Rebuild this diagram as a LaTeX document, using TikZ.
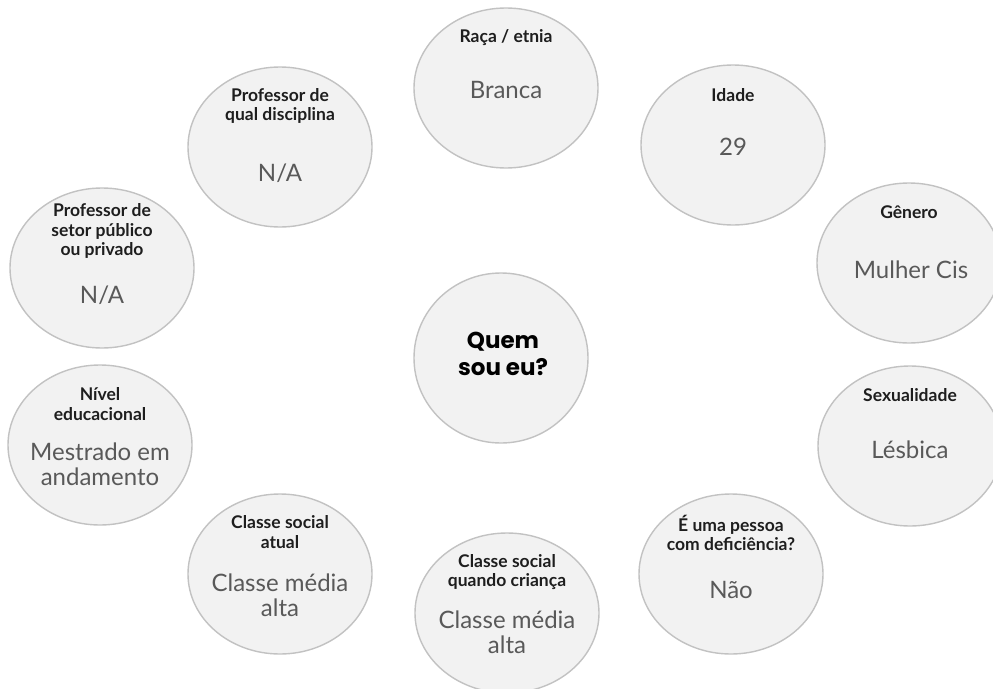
\documentclass[tikz,border=0pt]{standalone}
\usepackage{fontspec}
\setmainfont{Lato}
\newfontfamily\headfont{Poppins}
\usetikzlibrary{shapes.geometric}
\definecolor{bubblefill}{HTML}{F2F2F2}
\definecolor{bubbleline}{HTML}{C2C2C2}
\definecolor{titlecol}{HTML}{1E1E1E}
\definecolor{valuecol}{HTML}{595959}
\tikzset{
  bubble/.style={ellipse, draw=bubbleline, fill=bubblefill, line width=1.4pt,
    minimum width=184pt, minimum height=160pt, inner sep=0pt},
  qtitle/.style={align=center, text=titlecol,
    font=\fontsize{17.5}{19.5}\selectfont\bfseries, inner sep=0pt},
  qvalue/.style={align=center, text=valuecol,
    font=\fontsize{24}{25}\selectfont, inner sep=0pt},
}
\begin{document}
\begin{tikzpicture}[x=1pt,y=-1pt]
\useasboundingbox (0,0) rectangle (993,688);
\begin{scope}
\clip (0,0) rectangle (993,688);

% centre
\node[bubble, minimum width=174pt, minimum height=170pt] (centre) at (501,358) {};
\node[align=center, inner sep=0pt, font=\headfont\fontsize{23}{27}\selectfont\bfseries] (centretxt) at (503,354) {Quem\\sou eu?};

% top
\node[bubble] (raca) at (506,88) {};
\node[qtitle] (racaT) at (506,38) {Raça / etnia};
\node[qvalue] (racaV) at (506,90) {Branca};

% upper right
\node[bubble] (idade) at (733,145) {};
\node[qtitle] (idadeT) at (733,95) {Idade};
\node[qvalue] (idadeV) at (733,147) {29};

% right
\node[bubble] (genero) at (909,263) {};
\node[qtitle] (generoT) at (909,212) {Gênero};
\node[qvalue] (generoV) at (911,270) {Mulher Cis};

\node[bubble] (sexo) at (910,446) {};
\node[qtitle] (sexoT) at (910,395) {Sexualidade};
\node[qvalue] (sexoV) at (910,450) {Lésbica};

% lower right
\node[bubble] (defic) at (731,574) {};
\node[qtitle] (deficT) at (731,533) {É uma pessoa\\com deficiência?};
\node[qvalue] (deficV) at (731,590) {Não};

% bottom
\node[bubble] (infancia) at (507,613) {};
\node[qtitle] (infanciaT) at (507,572) {Classe social\\quando criança};
\node[qvalue] (infanciaV) at (507,632) {Classe média\\alta};

% lower left
\node[bubble] (atual) at (280,574) {};
\node[qtitle] (atualT) at (280,532) {Classe social\\atual};
\node[qvalue] (atualV) at (280,595) {Classe média\\alta};

% left
\node[bubble] (nivel) at (100,445) {};
\node[qtitle] (nivelT) at (100,404) {Nível\\educacional};
\node[qvalue] (nivelV) at (100,464) {Mestrado em\\andamento};

\node[bubble] (setor) at (102,268) {};
\node[qtitle] (setorT) at (102,231) {Professor de\\setor público\\ou privado};
\node[qvalue] (setorV) at (102,295) {N/A};

% upper left
\node[bubble] (disc) at (280,147) {};
\node[qtitle] (discT) at (280,106) {Professor de\\qual disciplina};
\node[qvalue] (discV) at (280,173) {N/A};
\end{scope}
\end{tikzpicture}
\end{document}
